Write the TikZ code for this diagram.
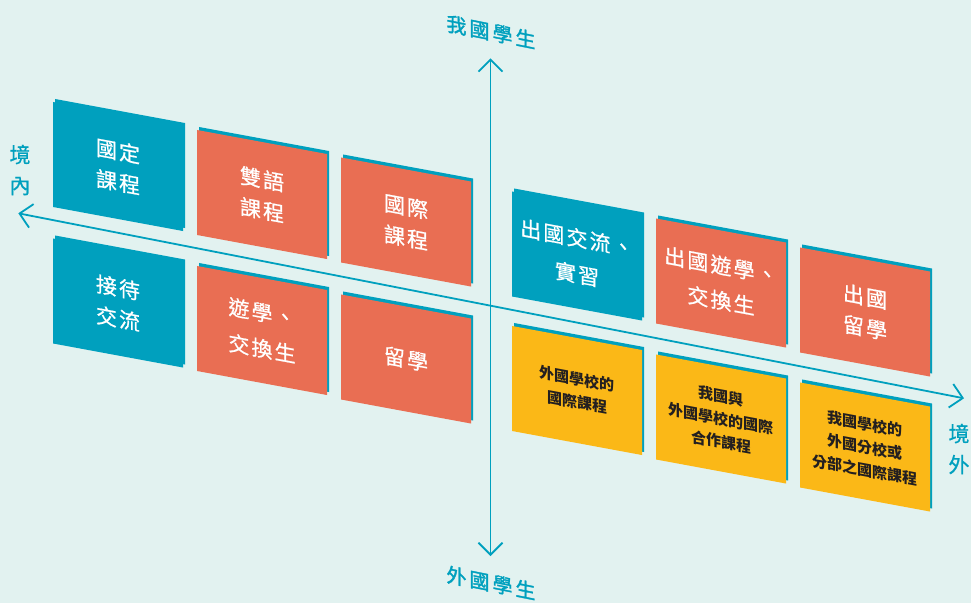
\documentclass[tikz,border=0pt]{standalone}
\usepackage{fontspec}
\usetikzlibrary{arrows.meta,shadows}

\newfontfamily\tilefont[LetterSpace=10,FakeBold=0.7]{Noto Sans CJK TC}
\newfontfamily\notefont{Noto Sans CJK TC}
\newfontfamily\sidefont[FakeBold=0.7]{Noto Sans CJK TC}
\newfontfamily\axisfont[LetterSpace=15,FakeBold=1.6]{Noto Sans CJK TC}

\definecolor{bgmint}{HTML}{E2F2F0}
\definecolor{axisteal}{HTML}{00A0BE}
\definecolor{tileorange}{HTML}{E96E53}
\definecolor{tileyellow}{HTML}{FBB817}
\definecolor{notetext}{HTML}{231F20}

\tikzset{
    axisline/.style={draw=axisteal, line width=1.8pt,
        {Straight Barb[length=12pt,width=24pt]}-{Straight Barb[length=12pt,width=24pt]}},
    tile/.style={minimum width=130pt, minimum height=105pt, inner sep=0pt,
        yslant=-0.185, align=center,
        general shadow={fill=axisteal, shadow xshift=2pt, shadow yshift=3pt}},
    axislabel/.style={text=axisteal, inner sep=0pt, yslant=-0.2,
        font=\axisfont\fontsize{20}{24}\selectfont},
    sidelabel/.style={text=axisteal, inner sep=0pt, align=center,
        font=\sidefont\fontsize{21}{31}\selectfont}
}

\begin{document}
\begin{tikzpicture}[x=1pt, y=-1pt]
    \useasboundingbox[fill=bgmint] (0,0) rectangle (971,603);

    % axes
    \coordinate (inner end) at (18.3,213.3);
    \coordinate (outer end) at (964,398.3);
    \coordinate (home end) at (490.5,58.3);
    \coordinate (foreign end) at (490.5,556);
    \draw[axisline] (inner end) -- (outer end);
    \draw[axisline] (home end) -- (foreign end);

    \node[axislabel] (home label) at (491,32) {我國學生};
    \node[axislabel] (foreign label) at (491,583) {外國學生};
    \node[sidelabel] (inner label) at (20,170) {境\\內};
    \node[sidelabel] (outer label) at (959,449) {境\\外};

    % tiles with white text
    \foreach \name/\x/\y/\shade/\txt in {
        guoding/118/166.5/axisteal/{國定\\課程},
        shuangyu/262/194.5/tileorange/{雙語\\課程},
        guoji/406/222/tileorange/{國際\\課程},
        jiedai/118/303/axisteal/{接待\\交流},
        youxue/262/330.5/tileorange/{遊學、\\[5pt]交換生},
        liuxue/406/359/tileorange/{留學},
        jiaoliu/577/256/axisteal/{出國交流、\\[5pt]實習},
        chuguoyou/721/283/tileorange/{出國遊學、\\[4pt]交換生},
        chuguoliu/865/312/tileorange/{出國\\留學}} {
        \node[tile, fill=\shade, text=white,
            font=\tilefont\fontsize{21}{31}\selectfont] (\name) at (\x,\y) {\txt};
    }

    % tiles with dark text
    \foreach \name/\x/\y/\txt in {
        waiguo/577/390.5/{外國學校的\\國際課程},
        hezuo/721/419/{我國與\\外國學校的國際\\合作課程},
        fenxiao/865/447/{我國學校的\\外國分校或\\分部之國際課程}} {
        \node[tile, fill=tileyellow, text=notetext,
            font=\notefont\bfseries\fontsize{15}{23}\selectfont] (\name) at (\x,\y) {\txt};
    }
\end{tikzpicture}
\end{document}
